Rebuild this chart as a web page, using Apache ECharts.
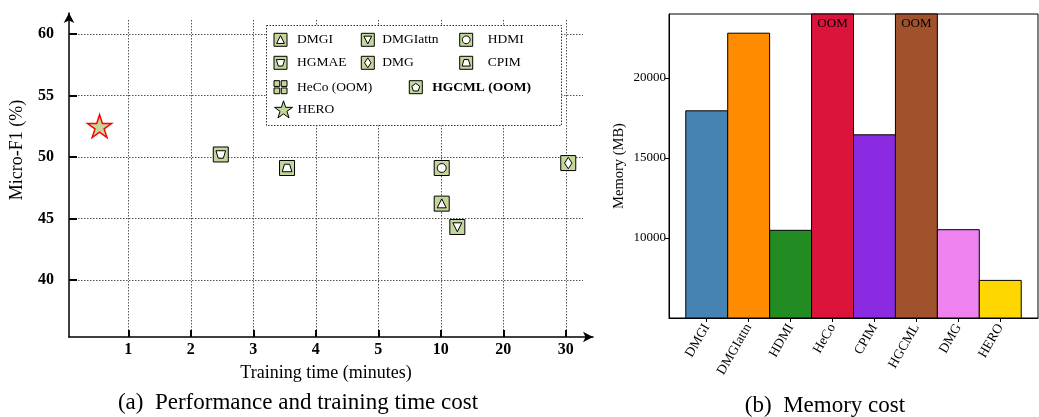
<!DOCTYPE html>
<html>
<head>
<meta charset="utf-8">
<script src="https://cdn.jsdelivr.net/npm/echarts@6/dist/echarts.min.js"></script>
<style>
  html, body { margin: 0; padding: 0; background: #fff; }
  #chart { width: 1039px; height: 417px; }
</style>
</head>
<body>
<div id="chart"></div>
<script>
// ---------- (a) training time vs. Micro-F1 ----------
const methods      = ['DMGI', 'DMGIattn', 'HDMI', 'HGMAE', 'DMG', 'CPIM', 'HeCo (OOM)', 'HGCML (OOM)', 'HERO'];
const trainMinutes = [10.15, 12.65, 10.15, 2.48, 30.4, 3.54, null, null, 0.54];
const microF1      = [46.2, 44.3, 49.1, 50.2, 49.5, 49.1, null, null, 52.5];
const timeTicks    = [1, 2, 3, 4, 5, 10, 20, 30];
const f1Ticks      = [40, 45, 50, 55, 60];

// ---------- (b) memory cost ----------
const memMethods = ['DMGI', 'DMGIattn', 'HDMI', 'HeCo', 'CPIM', 'HGCML', 'DMG', 'HERO'];
const memUsage   = [17950, 22800, 10480, 24000, 16450, 24000, 10520, 7350];
const memNotes   = ['', '', '', 'OOM', '', 'OOM', '', ''];
const memTicks   = [10000, 15000, 20000];
const memColors  = ['#4682B4', '#FF8C00', '#228B22', '#DC143C', '#8A2BE2', '#A0522D', '#EE82EE', '#FFD700'];

const SERIF = 'Liberation Serif';
const MARK_FILL = '#c4d79b';
const MEM_MIN = 5000, MEM_MAX = 24000;

// The time axis is piecewise: equal spacing between consecutive tick values.
function timeToAxis(t) {
  const n = timeTicks.length;
  if (t <= timeTicks[1]) return (t - timeTicks[0]) / (timeTicks[1] - timeTicks[0]);
  for (let i = 0; i < n - 1; i++) {
    if (t <= timeTicks[i + 1]) return i + (t - timeTicks[i]) / (timeTicks[i + 1] - timeTicks[i]);
  }
  return (n - 1) + (t - timeTicks[n - 1]) / (timeTicks[n - 1] - timeTicks[n - 2]);
}

// Marker glyphs: green square with a shape-shaped hole (inner path wound the other way).
const SQ = 'M0 0L100 0L100 100L0 100Z';
const holes = {
  triUp:   'M50 18L20 78L80 78Z',
  triDown: 'M20 22L50 82L80 22Z',
  circle:  'M50 20C33.43 20 20 33.43 20 50C20 66.57 33.43 80 50 80C66.57 80 80 66.57 80 50C80 33.43 66.57 20 50 20Z',
  trapDown:'M18 25L33 75L67 75L82 25Z',
  trapUp:  'M33 25L18 75L82 75L67 25Z',
  diamond: 'M50 12L25 50L50 88L75 50Z',
  pentagon:'M50 21L19.57 43.11L31.19 78.89L68.81 78.89L80.43 43.11Z'
};
function starPath() {
  let d = '';
  for (let k = 0; k < 10; k++) {
    const r = k % 2 ? 19.1 : 50;
    const a = (-90 + 36 * k) * Math.PI / 180;
    d += (k ? 'L' : 'M') + (50 + r * Math.cos(a)).toFixed(2) + ' ' + (50 + r * Math.sin(a)).toFixed(2);
  }
  return d + 'Z';
}
const symbols = {
  'DMGI':        'path://' + SQ + holes.triUp,
  'DMGIattn':    'path://' + SQ + holes.triDown,
  'HDMI':        'path://' + SQ + holes.circle,
  'HGMAE':       'path://' + SQ + holes.trapDown,
  'DMG':         'path://' + SQ + holes.diamond,
  'CPIM':        'path://' + SQ + holes.trapUp,
  'HeCo (OOM)':  'path://M0 0L44 0L44 44L0 44ZM56 0L100 0L100 44L56 44ZM0 56L44 56L44 100L0 100ZM56 56L100 56L100 100L56 100Z',
  'HGCML (OOM)': 'path://' + SQ + holes.pentagon,
  'HERO':        'path://' + starPath()
};

const pts = methods.map((m, i) => trainMinutes[i] == null ? null : [timeToAxis(trainMinutes[i]), microF1[i]]);

const series = methods.map((m, i) => {
  const isHero = m === 'HERO';
  return {
    type: 'scatter', name: m, xAxisIndex: 0, yAxisIndex: 0,
    symbol: symbols[m], symbolSize: isHero ? 24 : 15, symbolKeepAspect: true,
    itemStyle: { color: MARK_FILL, borderColor: isHero ? '#ff0000' : '#000', borderWidth: isHero ? 1.5 : 1, opacity: 1 },
    data: pts[i] ? [pts[i]] : [],
    z: 4, silent: true
  };
});
// white backing so the holes in the square markers stay opaque
series.push({
  type: 'scatter', xAxisIndex: 0, yAxisIndex: 0, symbol: 'rect', symbolSize: 14,
  itemStyle: { color: '#fff' }, z: 3, silent: true,
  data: pts.filter((p, i) => p && methods[i] !== 'HERO')
});
// memory bars, each one category wide
series.push({
  type: 'custom', xAxisIndex: 2, yAxisIndex: 2,
  data: memUsage.map((v, i) => [i, v]),
  renderItem: (params, api) => {
    const i = params.dataIndex;
    const tl = api.coord([api.value(0) - 0.5, api.value(1)]);
    const br = api.coord([api.value(0) + 0.5, MEM_MIN]);
    const children = [{
      type: 'rect',
      shape: { x: tl[0], y: tl[1], width: br[0] - tl[0], height: br[1] - tl[1] },
      style: { fill: memColors[i], stroke: '#000', lineWidth: 1 }
    }];
    if (memNotes[i]) {
      children.push({
        type: 'text', x: (tl[0] + br[0]) / 2, y: tl[1] + 3,
        style: { text: memNotes[i], align: 'center', verticalAlign: 'top', fontFamily: SERIF, fontSize: 13, fill: '#000' }
      });
    }
    return { type: 'group', children };
  }
});

// legend entries placed on a 3-column grid
const legendSpots = [
  { name: 'DMGI',        left: 273.5, top: 32.8, pad: 5 },
  { name: 'DMGIattn',    left: 360.8, top: 32.8, pad: 3 },
  { name: 'HDMI',        left: 459.2, top: 32.8, pad: 10 },
  { name: 'HGMAE',       left: 273.5, top: 55.8, pad: 5 },
  { name: 'DMG',         left: 360.8, top: 55.8, pad: 3 },
  { name: 'CPIM',        left: 459.2, top: 55.8, pad: 10 },
  { name: 'HeCo (OOM)',  left: 273.5, top: 80.2, pad: 5 },
  { name: 'HGCML (OOM)', left: 408.8, top: 80.2, pad: 5, bold: true },
  { name: 'HERO',        left: 274,   top: 100.3, pad: 0, size: 18 }
];
const legends = legendSpots.map(s => ({
  data: [s.name],
  left: s.left, top: s.top, padding: 0, itemGap: 0,
  itemWidth: s.size || 13, itemHeight: s.size || 13,
  itemStyle: { color: MARK_FILL, borderColor: '#000', borderWidth: 1 },
  selectedMode: false, z: 6,
  textStyle: {
    fontFamily: SERIF, fontSize: 13.5, color: '#000', fontWeight: s.bold ? 'bold' : 'normal',
    padding: [0, 0, 0, s.pad], lineHeight: s.size || 13
  }
}));

const gridLineStyle = { type: [1.5, 1.5], color: '#555', width: 1 };
const tickIdx = timeTicks.map((t, i) => i);

const option = {
  animation: false,
  backgroundColor: '#fff',
  grid: [
    { left: 69, top: 20, width: 514, height: 317 },
    { left: 69, top: 13, width: 524, height: 324 },
    { left: 669, top: 14, width: 369, height: 304, show: true, borderColor: '#000', borderWidth: 1 }
  ],
  xAxis: [
    {
      gridIndex: 0, type: 'value', min: -0.949, max: 7.276,
      axisLine: { show: false, onZero: false },
      axisTick: { show: true, inside: true, length: 7, customValues: tickIdx, lineStyle: { color: '#000', width: 2 } },
      axisLabel: { customValues: tickIdx, formatter: v => String(timeTicks[Math.round(v)]),
        fontFamily: SERIF, fontWeight: 'bold', fontSize: 16, color: '#000', margin: 5 },
      splitLine: { show: true, lineStyle: gridLineStyle },
      name: 'Training time (minutes)', nameLocation: 'middle', nameGap: 27,
      nameTextStyle: { fontFamily: SERIF, fontSize: 18, color: '#000' }
    },
    {
      gridIndex: 1, type: 'value', min: 0, max: 1,
      axisLine: { show: true, onZero: false, symbol: ['none', 'arrow'], symbolSize: [8, 10], lineStyle: { color: '#000', width: 1.5 } },
      axisTick: { show: false }, axisLabel: { show: false }, splitLine: { show: false }
    },
    {
      gridIndex: 2, type: 'value', min: -0.9, max: 7.9,
      axisLine: { show: true, onZero: false, lineStyle: { color: '#000', width: 1 } },
      axisTick: { show: true, length: 4, customValues: memMethods.map((m, i) => i), lineStyle: { color: '#000' } },
      axisLabel: { customValues: memMethods.map((m, i) => i), formatter: v => memMethods[Math.round(v)],
        rotate: 60, fontFamily: SERIF, fontSize: 13.5, color: '#000', margin: 7 },
      splitLine: { show: false }
    }
  ],
  yAxis: [
    {
      gridIndex: 0, type: 'value', min: 35.35, max: 61.14,
      axisLine: { show: false, onZero: false },
      axisTick: { show: true, inside: true, length: 8, customValues: f1Ticks, lineStyle: { color: '#000', width: 2 } },
      axisLabel: { customValues: f1Ticks, fontFamily: SERIF, fontWeight: 'bold', fontSize: 16, color: '#000', margin: 15 },
      splitLine: { show: true, lineStyle: gridLineStyle }
    },
    {
      gridIndex: 1, type: 'value', min: 0, max: 1,
      axisLine: { show: true, onZero: false, symbol: ['none', 'arrow'], symbolSize: [8, 10], lineStyle: { color: '#000', width: 1.5 } },
      axisTick: { show: false }, axisLabel: { show: false }, splitLine: { show: false }
    },
    {
      gridIndex: 2, type: 'value', min: MEM_MIN, max: MEM_MAX,
      axisLine: { show: true, onZero: false, lineStyle: { color: '#000', width: 1 } },
      axisTick: { show: true, length: 4, customValues: memTicks, lineStyle: { color: '#000' } },
      axisLabel: { customValues: memTicks, formatter: v => String(v), fontFamily: SERIF, fontSize: 13, color: '#000', margin: 3 },
      splitLine: { show: false },
      name: 'Memory (MB)', nameLocation: 'middle', nameGap: 42,
      nameTextStyle: { fontFamily: SERIF, fontSize: 14.5, color: '#000' }
    }
  ],
  legend: legends,
  graphic: [
    {
      type: 'rect', z: 5, silent: true,
      shape: { x: 266.5, y: 25.5, width: 295, height: 100 },
      style: { fill: '#fff', stroke: '#333', lineWidth: 1, lineDash: [1.5, 1.5] }
    },
    {
      type: 'text', x: 17, y: 150, rotation: Math.PI / 2, silent: true,
      style: { text: 'Micro-F1 (%)', align: 'center', verticalAlign: 'middle',
        fontFamily: SERIF, fontSize: 18, fill: '#000' }
    },
    {
      type: 'text', x: 298, y: 403, silent: true,
      style: { text: '(a)  Performance and training time cost', align: 'center', verticalAlign: 'middle',
        fontFamily: SERIF, fontSize: 23, fill: '#000' }
    },
    {
      type: 'text', x: 825, y: 406, silent: true,
      style: { text: '(b)  Memory cost', align: 'center', verticalAlign: 'middle',
        fontFamily: SERIF, fontSize: 23, fill: '#000' }
    }
  ],
  series
};

const chart = echarts.init(document.getElementById('chart'), null, { renderer: 'canvas' });
chart.setOption(option);
</script>
</body>
</html>
